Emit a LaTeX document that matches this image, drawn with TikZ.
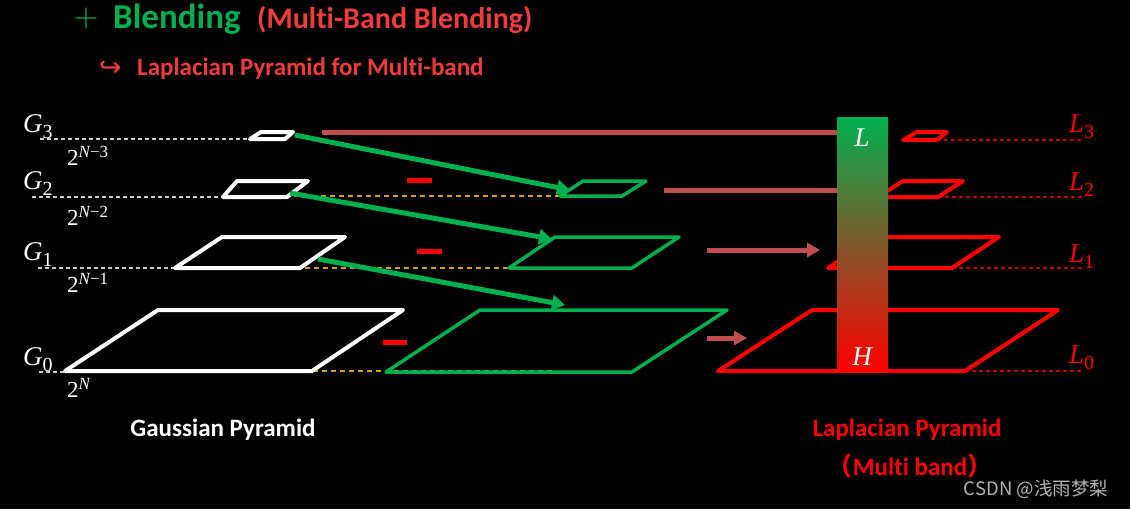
\documentclass[tikz,border=0pt]{standalone}
\usepackage{fontspec}
\setmainfont{Carlito}[Ligatures=NoCommon]
\newfontfamily\cjk{Noto Sans CJK SC}
\newfontfamily\ser{Liberation Serif}
\newfontfamily\djv{DejaVu Sans}
\usetikzlibrary{arrows.meta}
\definecolor{mygreen}{HTML}{00B050}
\definecolor{rose}{HTML}{C0504D}
\definecolor{titlered}{HTML}{F23C3C}
\definecolor{gold}{HTML}{D9A400}
\definecolor{dred}{HTML}{C00000}
\definecolor{barbrown}{HTML}{8E4A28}
\definecolor{wm}{HTML}{B4B4B4}
\newcommand\sublab[2]{{\ser\fontsize{27}{29}\selectfont\itshape #1\upshape\raisebox{-6pt}{\fontsize{20}{21}\selectfont #2}}}
\newcommand\powlab[1]{{\ser\fontsize{23}{25}\selectfont 2\raisebox{8pt}{\fontsize{17}{18}\selectfont\itshape N\upshape #1}}}
\begin{document}
\begin{tikzpicture}[x=1pt,y=-1pt,
  gpl/.style={draw=white, line width=4pt, line join=round},
  grpl/.style={draw=mygreen, line width=3.5pt, line join=round},
  lpl/.style={draw=red, line width=4pt, line join=round},
  wdash/.style={draw=white!80!black, line width=1.3pt, dash pattern=on 4pt off 3pt},
  odash/.style={draw=gold, line width=1.3pt, dash pattern=on 5pt off 4pt},
  rdash/.style={draw=dred, line width=1.3pt, dash pattern=on 4pt off 3pt},
  garrow/.style={draw=mygreen, line width=5pt, -{Triangle[length=13pt,width=15pt]}},
  rarrow/.style={draw=rose, line width=5pt, -{Triangle[length=13pt,width=14pt]}},
  rline/.style={draw=rose, line width=5pt},
  minusbar/.style={draw=red, line width=5pt},
  mlab/.style={text=white, inner sep=0pt, anchor=base west},
  llab/.style={text=red, inner sep=0pt, anchor=base west},
  boldtxt/.style={font=\bfseries\fontsize{25}{28}\selectfont, inner sep=0pt}
]
\fill[black] (0,0) rectangle (1130,509);

% titles
\node[inner sep=0pt, text=mygreen, scale=3.2] (plus) at (86,18) {$+$};
\node[anchor=base west, inner sep=0pt, text=mygreen, font=\bfseries\fontsize{35}{38}\selectfont] (blend) at (113,28) {Blending};
\node[anchor=base west, inner sep=0pt, text=titlered, font=\bfseries\fontsize{30}{33}\selectfont] (mbb) at (257,28) {(Multi-Band Blending)};
\node[anchor=base west, inner sep=0pt, text=titlered, font=\djv\fontsize{27}{29}\selectfont] (hook) at (99,76) {↪};
\node[anchor=base west, inner sep=0pt, text=titlered, font=\bfseries\fontsize{25}{28}\selectfont] (lpm) at (137,75) {Laplacian Pyramid for Multi-band};

% gaussian dashed guide lines
\draw[wdash] (40,139) -- (250,139);
\draw[wdash] (32,197) -- (223,197);
\draw[wdash] (38,268) -- (175,268);
\draw[wdash] (39,372) -- (65,372);
\draw[odash] (267,196) -- (602,196);
\draw[odash] (260,268) -- (593,268);
\draw[odash] (250,371) -- (553,371);

% gaussian pyramid
\draw[gpl] (250,139) -- (285,139) -- (293,132) -- (261,132) -- cycle;
\draw[gpl] (223,197) -- (287,197) -- (308,181) -- (237,181) -- cycle;
\draw[gpl] (175,268) -- (300,268) -- (345,237) -- (222,237) -- cycle;
\draw[gpl] (65,371) -- (312,371) -- (403,310) -- (158,310) -- cycle;

% labels
\node[mlab] (G3) at (23,132) {\sublab{G}{3}};
\node[mlab] (G2) at (23,189) {\sublab{G}{2}};
\node[mlab] (G1) at (23,260) {\sublab{G}{1}};
\node[mlab] (G0) at (23,365) {\sublab{G}{0}};
\node[mlab] (n3) at (67,165) {\powlab{−3}};
\node[mlab] (n2) at (67,225) {\powlab{−2}};
\node[mlab] (n1) at (67,292) {\powlab{−1}};
\node[mlab] (n0) at (67,397) {\powlab{}};

% green pyramid
\draw[grpl] (560,196) -- (622,196) -- (646,181) -- (583,181) -- cycle;
\draw[grpl] (509,268) -- (632,268) -- (679,237) -- (555,237) -- cycle;
\draw[grpl] (386,372) -- (632,372) -- (727,310) -- (480,310) -- cycle;

% green arrows
\coordinate (a3s) at (295,135); \coordinate (a3e) at (570,190);
\coordinate (a2s) at (290,193); \coordinate (a2e) at (552,239);
\coordinate (a1s) at (318,259); \coordinate (a1e) at (565,305);
\draw[garrow] (a3s) -- (a3e);
\draw[garrow] (a2s) -- (a2e);
\draw[garrow] (a1s) -- (a1e);

% minus signs
\coordinate (m2a) at (407,180); \coordinate (m2b) at (432,180);
\coordinate (m1a) at (417,251); \coordinate (m1b) at (442,251);
\coordinate (m0a) at (383,342); \coordinate (m0b) at (407,342);
\draw[minusbar] (m2a) -- (m2b);
\draw[minusbar] (m1a) -- (m1b);
\draw[minusbar] (m0a) -- (m0b);

% laplacian dashed lines
\draw[rdash] (937,140) -- (1083,140);
\draw[rdash] (938,197) -- (1083,197);
\draw[rdash] (952,268) -- (1083,268);
\draw[rdash] (965,371) -- (1083,371);

% laplacian pyramid
\draw[lpl] (903,140) -- (937,140) -- (947,132) -- (917,132) -- cycle;
\draw[lpl] (878,197) -- (938,197) -- (963,181) -- (903,181) -- cycle;
\draw[lpl] (828,268) -- (952,268) -- (999,237) -- (875,237) -- cycle;
\draw[lpl] (718,371) -- (965,371) -- (1058,310) -- (812,310) -- cycle;

% blending bar
\shade[top color=mygreen, middle color=barbrown, bottom color=red] (837,117) rectangle (888,372);
\node[text=white, inner sep=0pt, anchor=base, font=\ser\itshape\fontsize{27}{29}\selectfont] (Lb) at (862,146) {L};
\node[text=white, inner sep=0pt, anchor=base, font=\ser\itshape\fontsize{27}{29}\selectfont] (Hb) at (862,365) {H};
\coordinate (barL3) at (837,132);
\coordinate (barL2) at (837,190);

% rose lines / arrows
\coordinate (r3s) at (322,132);
\coordinate (r2s) at (664,190);
\coordinate (r1s) at (707,250); \coordinate (r1e) at (820,250);
\coordinate (r0s) at (707,338); \coordinate (r0e) at (747,338);
\draw[rline] (r3s) -- (barL3);
\draw[rline] (r2s) -- (barL2);
\draw[rarrow] (r1s) -- (r1e);
\draw[rarrow] (r0s) -- (r0e);

% L labels
\node[llab] (L3) at (1069,132) {\sublab{L}{3}};
\node[llab] (L2) at (1069,190) {\sublab{L}{2}};
\node[llab] (L1) at (1069,262) {\sublab{L}{1}};
\node[llab] (L0) at (1069,363) {\sublab{L}{0}};

% bottom captions
\node[boldtxt, text=white] (gp) at (223,430) {Gaussian Pyramid};
\node[boldtxt, text=red] (lp) at (907,430) {Laplacian Pyramid};
\node[boldtxt, text=red] (mb) at (910,466) {{\cjk （}Multi band{\cjk ）}};
\node[text=wm, font=\cjk\fontsize{18.5}{20}\selectfont, inner sep=0pt] (wmk) at (1036,489) {CSDN @浅雨梦梨};
\end{tikzpicture}
\end{document}
